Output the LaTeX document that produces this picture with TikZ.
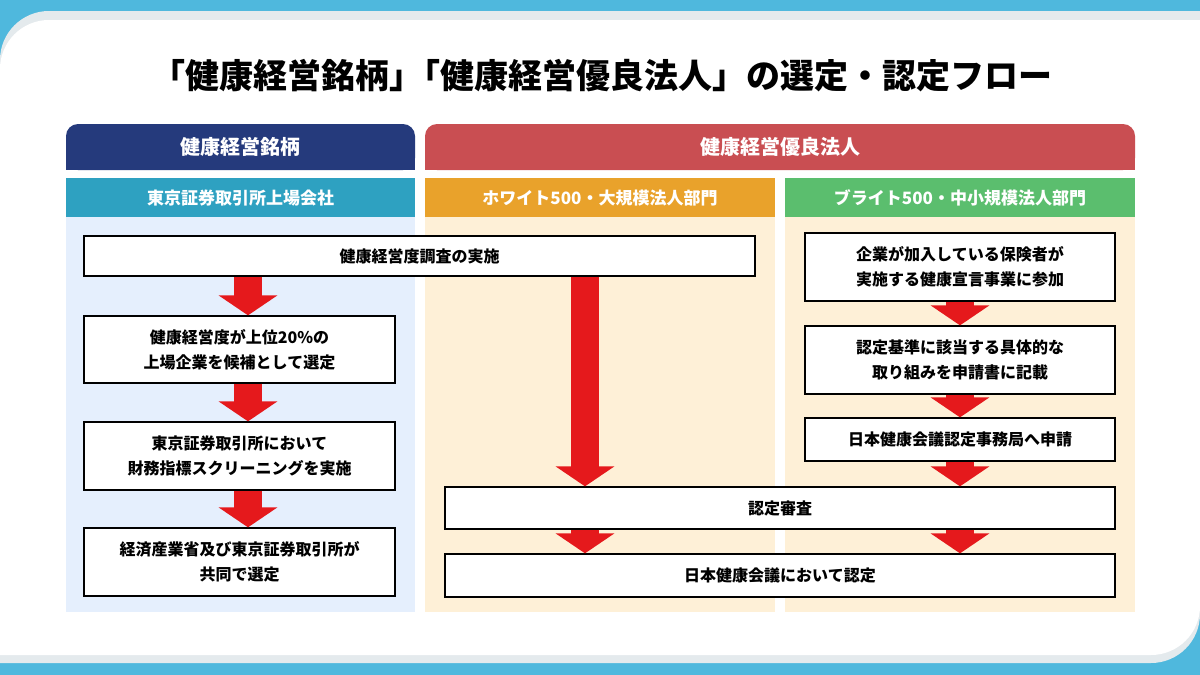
\documentclass[tikz,border=0pt]{standalone}
\usepackage{fontspec}
\setmainfont{Noto Sans CJK JP}[BoldFont={Noto Sans CJK JP Black}]
\usetikzlibrary{arrows.meta}
\definecolor{bgblue}{HTML}{4FB8DD}
\definecolor{cardshade}{HTML}{E4EAED}
\definecolor{navy}{HTML}{253A7C}
\definecolor{hred}{HTML}{C94E52}
\definecolor{teal}{HTML}{2EA1C1}
\definecolor{orng}{HTML}{E9A22B}
\definecolor{grn}{HTML}{5BBE6E}
\definecolor{pblue}{HTML}{E5EFFD}
\definecolor{cream}{HTML}{FEF0D7}
\definecolor{arr}{HTML}{E5191C}
\tikzset{
  hdr/.style={text=white,font=\bfseries\fontsize{20}{22}\selectfont},
  sub/.style={text=white,font=\bfseries\fontsize{17}{19}\selectfont},
  stepbox/.style={draw=black,line width=1.3pt,fill=white,align=center,font=\bfseries\fontsize{16}{25}\selectfont,inner sep=0pt},
  bigarrow/.style={draw=arr,line width=28pt,-{Triangle[width=58pt,length=20pt]}}
}
\begin{document}
\begin{tikzpicture}[x=1pt,y=-1pt]
\useasboundingbox (0,0) rectangle (1200,675);
\fill[bgblue] (0,0) rectangle (1200,675);
\fill[cardshade] (0,663) -- (0,200) [rounded corners=49pt] -- (0,11) [sharp corners] -- (1200,11) -- (1200,500) [rounded corners=49pt] -- (1200,663) [sharp corners] -- cycle;
\fill[white] (0,655) -- (0,200) [rounded corners=49pt] -- (0,20) [sharp corners] -- (1200,20) -- (1200,500) [rounded corners=49pt] -- (1200,655) [sharp corners] -- cycle;
\node[font=\bfseries\fontsize{34}{38}\selectfont] (title) at (602,76) {「健康経営銘柄」\kern-0.5em「健康経営優良法人」の選定・認定フロー};
% headers
\fill[navy,rounded corners=12pt] (66,170) -- (66,124) -- (415,124) -- (415,170) -- cycle;
\fill[navy] (66,150) rectangle (415,170);
\node[hdr] (h1) at (240.5,147) {健康経営銘柄};
\fill[hred,rounded corners=12pt] (425,170) -- (425,124) -- (1135,124) -- (1135,170) -- cycle;
\fill[hred] (425,150) rectangle (1135,170);
\node[hdr] (h2) at (780,147) {健康経営優良法人};
\fill[teal] (66,178) rectangle (415,217);
\node[sub] (s1) at (240.5,198) {東京証券取引所上場会社};
\fill[orng] (425,178) rectangle (775,217);
\node[sub] (s2) at (600,198) {ホワイト500・大規模法人部門};
\fill[grn] (785,178) rectangle (1135,217);
\node[sub] (s3) at (960,198) {ブライト500・中小規模法人部門};
\fill[pblue] (66,217) rectangle (415,612);
\fill[cream] (425,217) rectangle (775,612);
\fill[cream] (785,217) rectangle (1135,612);
% boxes
\node[stepbox,minimum width=671pt,minimum height=40pt] (b1) at (419.5,256) {健康経営度調査の実施};
\node[stepbox,minimum width=311pt,minimum height=67pt] (b2) at (239.5,349.5) {健康経営度が上位20\%の\\上場企業を候補として選定};
\node[stepbox,minimum width=311pt,minimum height=68pt] (b3) at (239.5,456) {東京証券取引所において\\財務指標スクリーニングを実施};
\node[stepbox,minimum width=311pt,minimum height=68pt] (b4) at (239.5,562) {経済産業省及び東京証券取引所が\\共同で選定};
\node[stepbox,minimum width=310pt,minimum height=68pt] (r1) at (960,267) {企業が加入している保険者が\\実施する健康宣言事業に参加};
\node[stepbox,minimum width=310pt,minimum height=68pt] (r2) at (960,360) {認定基準に該当する具体的な\\取り組みを申請書に記載};
\node[stepbox,minimum width=310pt,minimum height=43pt] (r3) at (960,439.5) {日本健康会議認定事務局へ申請};
\node[stepbox,minimum width=670pt,minimum height=42pt] (c1) at (780,508) {認定審査};
\node[stepbox,minimum width=670pt,minimum height=43pt] (c2) at (780,575.5) {日本健康会議において認定};
% arrows
\draw[bigarrow] (b1.south -| 248,0) -- (b2.north -| 248,0);
\draw[bigarrow] (b2.south -| 248,0) -- (b3.north -| 248,0);
\draw[bigarrow] (b3.south -| 248,0) -- (b4.north -| 248,0);
\draw[bigarrow] (b1.south -| 585,0) -- (c1.north -| 585,0);
\draw[bigarrow] (r1.south) -- (r2.north);
\draw[bigarrow] (r2.south) -- (r3.north);
\draw[bigarrow] (r3.south) -- (c1.north -| r3.south);
\draw[bigarrow] (c1.south -| 585,0) -- (c2.north -| 585,0);
\draw[bigarrow] (c1.south -| 960,0) -- (c2.north -| 960,0);
\end{tikzpicture}
\end{document}
